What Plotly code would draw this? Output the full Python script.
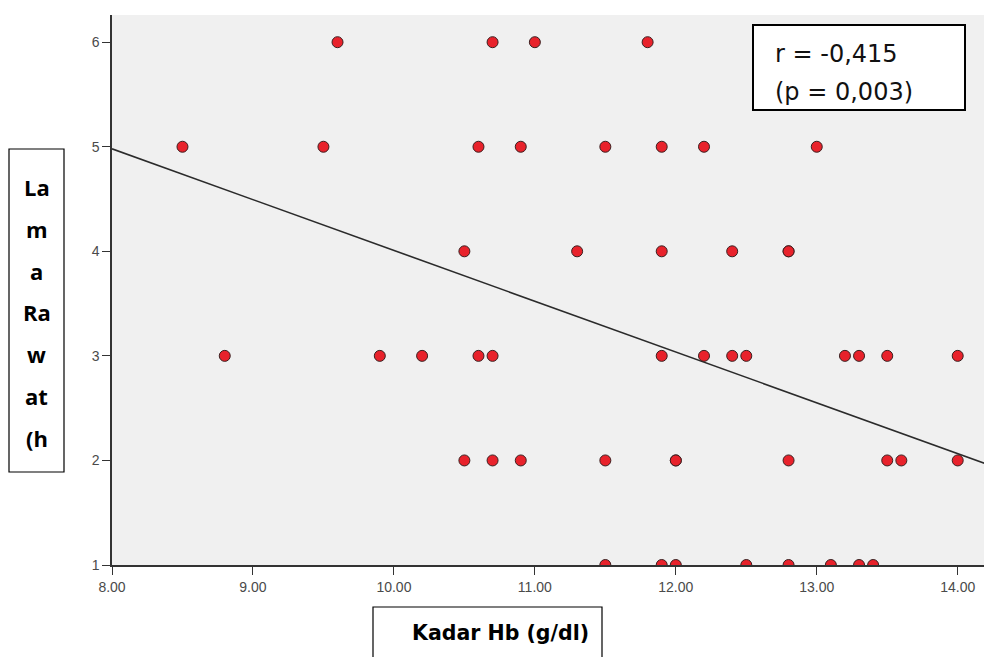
import plotly.graph_objects as go

# Data (Kadar Hb vs Lama Rawat)
hb_6 = [9.6, 10.7, 11.0, 11.8]
hb_5 = [8.5, 9.5, 10.6, 10.9, 11.5, 11.9, 12.2, 13.0]
hb_4 = [10.5, 11.3, 11.9, 12.4, 12.8, 12.8]
hb_3 = [8.8, 9.9, 10.2, 10.6, 10.7, 11.9, 12.2, 12.4, 12.5, 13.2, 13.3, 13.5, 14.0]
hb_2 = [10.5, 10.7, 10.9, 11.5, 12.0, 12.0, 12.8, 13.5, 13.6, 14.0]
hb_1 = [11.5, 11.9, 12.0, 12.5, 12.8, 13.1, 13.3, 13.4]

x_vals = hb_6 + hb_5 + hb_4 + hb_3 + hb_2 + hb_1
y_vals = [6]*len(hb_6) + [5]*len(hb_5) + [4]*len(hb_4) + [3]*len(hb_3) + [2]*len(hb_2) + [1]*len(hb_1)

x_ticks = [8, 9, 10, 11, 12, 13, 14]
y_ticks = [1, 2, 3, 4, 5, 6]
x_range = [8.0, 14.30]
y_range = [1.0, 6.26]

# Fit line (value at x=8 and at x=14.3)
fit_x = [8.0, 14.30]
fit_y = [4.98, 1.92]

stat_lines = ["r = -0,415", "(p = 0,003)"]
y_label_parts = ["La", "m", "a", "Ra", "w", "at", "(h"]
x_label = "Kadar Hb (g/dl)"

# page body adds an 8px offset; figure is sized so the plot lands where the reference has it
OFF = 8
W, H = 992, 657 - OFF
L, R, T, B = 112 - OFF, 0, 15 - OFF, 657 - 565
pw, ph = W - L - R, H - T - B

def px(xr):
    return (xr - OFF - L) / pw

def py(yr):
    return (H - B - (yr - OFF)) / ph

fig = go.Figure()
fig.add_trace(go.Scatter(x=fit_x, y=fit_y, mode="lines",
                         line=dict(color="#2b2b2b", width=1.6),
                         hoverinfo="skip", showlegend=False))
fig.add_trace(go.Scatter(x=x_vals, y=y_vals, mode="markers", cliponaxis=True,
                         marker=dict(size=11, color="#e8222b",
                                     line=dict(color="#3a2020", width=1)),
                         showlegend=False))

shapes = [
    # statistics box
    dict(type="rect", xref="paper", yref="paper",
         x0=px(753), x1=px(965), y0=py(110), y1=py(25),
         line=dict(color="black", width=2), fillcolor="white", layer="above"),
    # y-label box
    dict(type="rect", xref="paper", yref="paper",
         x0=px(9), x1=px(64), y0=py(472), y1=py(149),
         line=dict(color="black", width=1.2), fillcolor="white"),
    # x-label box
    dict(type="rect", xref="paper", yref="paper",
         x0=px(373), x1=px(602), y0=py(680), y1=py(607),
         line=dict(color="black", width=1.2), fillcolor="white"),
]

annotations = []
for i, s in enumerate(stat_lines):
    annotations.append(dict(text=s, xref="paper", yref="paper",
                            x=px(773), y=py(54 + i * 38), xanchor="left", yanchor="middle",
                            showarrow=False,
                            font=dict(family="DejaVu Sans", size=24, color="#111111")))
for i, s in enumerate(y_label_parts):
    annotations.append(dict(text="<b>" + s + "</b>", xref="paper", yref="paper",
                            x=px(36.5), y=py(187 + i * 41.8), xanchor="center", yanchor="middle",
                            showarrow=False,
                            font=dict(family="Open Sans", size=22, color="black")))
annotations.append(dict(text="<b>" + x_label + "</b>", xref="paper", yref="paper",
                        x=px(500), y=py(633), xanchor="center", yanchor="middle",
                        showarrow=False,
                        font=dict(family="DejaVu Sans", size=20.5, color="black")))

fig.update_layout(
    width=W, height=H,
    margin=dict(l=L, r=R, t=T, b=B),
    paper_bgcolor="white", plot_bgcolor="#f0f0f0",
    shapes=shapes, annotations=annotations,
    xaxis=dict(range=x_range, tickvals=x_ticks, tickformat=".2f",
               showgrid=False, zeroline=False,
               showline=True, linecolor="#333333", linewidth=1.5,
               ticks="outside", ticklen=8, tickcolor="#333333", tickwidth=1.3,
               tickfont=dict(family="Liberation Sans", size=14, color="#4a4a4a")),
    yaxis=dict(range=y_range, tickvals=y_ticks,
               showgrid=False, zeroline=False,
               showline=True, linecolor="#333333", linewidth=1.5,
               ticks="outside", ticklen=8, tickcolor="#333333", tickwidth=1.3,
               ticklabelstandoff=0,
               tickfont=dict(family="Liberation Sans", size=14, color="#4a4a4a")),
)

fig.write_html("out.html")
